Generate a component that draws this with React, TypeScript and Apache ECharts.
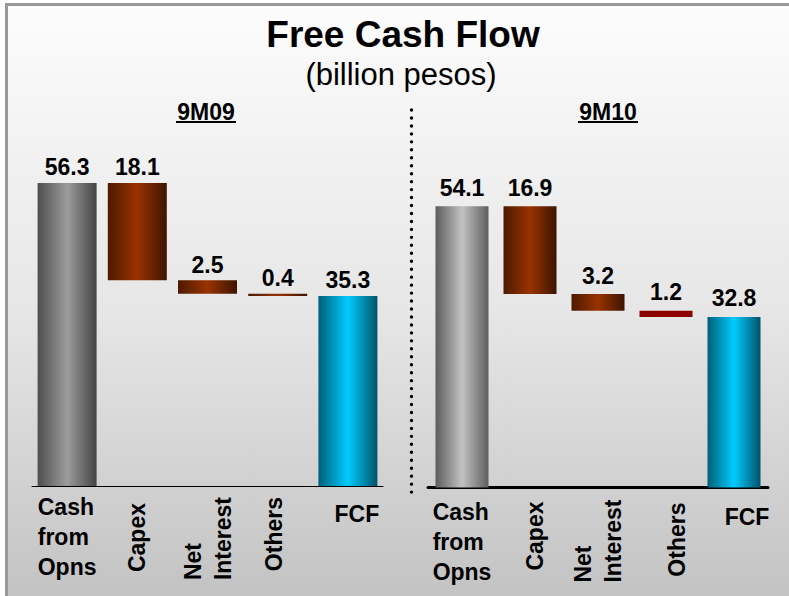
import React, { useEffect, useRef } from 'react';
import * as echarts from 'echarts';

const titleText = 'Free Cash Flow';
const subtitleText = '(billion pesos)';
const periodLabels = ['9M09', '9M10'];
const categories = ['Cash from Opns', 'Capex', 'Net Interest', 'Others', 'FCF'];
const values9M09 = [56.3, 18.1, 2.5, 0.4, 35.3];
const values9M10 = [54.1, 16.9, 3.2, 1.2, 32.8];

const FF = '"Liberation Sans", Arial, Helvetica, sans-serif';

function waterfallBases(vals: number[]): number[] {
  const out: number[] = [];
  let running = 0;
  vals.forEach((v, i) => {
    if (i === 0) {
      out.push(0);
      running = v;
    } else if (i === vals.length - 1) {
      out.push(0);
    } else {
      running -= v;
      out.push(running);
    }
  });
  return out;
}

const grad = (edge: string, mid: string, edge2?: string) =>
  new echarts.graphic.LinearGradient(0, 0, 1, 0, [
    { offset: 0, color: edge },
    { offset: 0.5, color: mid },
    { offset: 1, color: edge2 || edge },
  ]);

function barColors(panel: number) {
  const gray = panel === 0 ? grad('#4e4e4e', '#9c9c9c', '#444444') : grad('#5c5c5c', '#c2c2c2', '#5e5e5e');
  const brown = grad('#4d1a00', '#993300', '#3d1400');
  const cyan = grad('#006078', '#00ccff', '#00526a');
  const others = panel === 0 ? brown : '#8b0000';
  return [gray, brown, brown, others, cyan];
}

function horizLabelFormatter(v: string, i: number) {
  if (i === 0) return v.split(' ').map((w) => `{a|${w}}`).join('\n');
  if (i === categories.length - 1) return `{f|${v}}`;
  return '';
}

function rotLabelFormatter(v: string, i: number) {
  if (i === 1) return `{c|${v}}`;
  if (i === 2) return v.split(' ').map((w) => `{n|${w}}`).join('\n');
  if (i === 3) return `{o|${v}}`;
  return '';
}

const labelBase = { fontFamily: FF, fontWeight: 'bold' as const, fontSize: 23, color: '#000' };

export default function App() {
  const ref = useRef<HTMLDivElement>(null);
  useEffect(() => {
    if (!ref.current) return;
    const chart = echarts.init(ref.current, undefined, { renderer: 'svg' });
    const panels = [values9M09, values9M10];
    const grids = [
      { left: 32, right: 406, top: 163, bottom: 110 },
      { left: 428, right: 21, top: 175.5, bottom: 108.5 },
    ];
    const barWidths = [59, 53];
    const labelDist = [4, 7];
    const xAxes: any[] = [];
    const yAxes: any[] = [];
    const series: any[] = [];
    panels.forEach((vals, p) => {
      xAxes.push({
        type: 'category',
        gridIndex: p,
        data: categories,
        position: 'bottom',
        axisLine: { show: true, lineStyle: { color: '#000', width: p === 0 ? 1 : 3 } },
        axisTick: { show: false },
        axisLabel: {
          interval: 0,
          margin: p === 0 ? 6 : 9,
          ...labelBase,
          formatter: horizLabelFormatter,
          rich: {
            a: { ...labelBase, lineHeight: 30, align: 'left' },
            f: { ...labelBase, lineHeight: 30, padding: p === 0 ? [13, 0, 0, 18] : [10, 0, 0, 26] },
          },
        },
      });
      xAxes.push({
        type: 'category',
        gridIndex: p,
        data: categories,
        position: 'bottom',
        axisLine: { show: false },
        axisTick: { show: false },
        axisLabel: {
          interval: 0,
          rotate: 90,
          margin: p === 0 ? 11 : 12,
          ...labelBase,
          formatter: rotLabelFormatter,
          rich: {
            c: { ...labelBase, lineHeight: 30, padding: p === 0 ? [0, 6, 0, 0] : [10, 2, 0, 0] },
            n: { ...labelBase, lineHeight: 30, align: 'left' },
            o: { ...labelBase, lineHeight: 30, padding: p === 0 ? [0, 0, 8, 0] : [22, 3, 0, 0] },
          },
        },
      });
      yAxes.push({ type: 'value', gridIndex: p, min: 0, max: 60, show: false, splitLine: { show: false } });
      const colors = barColors(p);
      series.push({
        type: 'bar',
        xAxisIndex: p * 2,
        yAxisIndex: p,
        stack: 'w' + p,
        barWidth: barWidths[p],
        silent: true,
        itemStyle: { color: 'transparent' },
        data: waterfallBases(vals),
      });
      series.push({
        type: 'bar',
        xAxisIndex: p * 2,
        yAxisIndex: p,
        stack: 'w' + p,
        barWidth: barWidths[p],
        data: vals.map((v, i) => ({ value: v, itemStyle: { color: colors[i] } })),
        label: {
          show: true,
          position: 'top',
          distance: labelDist[p],
          ...labelBase,
          formatter: (d: any) => Number(d.value).toFixed(1),
        },
      });
    });

    chart.setOption({
      animation: false,
      backgroundColor: 'transparent',
      title: [
        {
          text: titleText,
          left: 403,
          top: 16,
          padding: 0,
          textAlign: 'center',
          textStyle: { fontFamily: FF, fontWeight: 'bold', fontSize: 37, color: '#000' },
        },
        {
          text: subtitleText,
          left: 401,
          top: 59,
          padding: 0,
          textAlign: 'center',
          textStyle: { fontFamily: FF, fontWeight: 'normal', fontSize: 31, color: '#000' },
        },
        {
          text: periodLabels[0],
          left: 206,
          top: 100,
          padding: 0,
          textAlign: 'center',
          textStyle: { fontFamily: FF, fontWeight: 'bold', fontSize: 23, color: '#000' },
        },
        {
          text: periodLabels[1],
          left: 608,
          top: 100,
          padding: 0,
          textAlign: 'center',
          textStyle: { fontFamily: FF, fontWeight: 'bold', fontSize: 23, color: '#000' },
        },
      ],
      grid: grids,
      xAxis: xAxes,
      yAxis: yAxes,
      series,
      graphic: [
        { type: 'line', shape: { x1: 176, y1: 122, x2: 236, y2: 122 }, style: { stroke: '#000', lineWidth: 2 } },
        { type: 'line', shape: { x1: 578, y1: 122, x2: 638, y2: 122 }, style: { stroke: '#000', lineWidth: 2 } },
        {
          type: 'line',
          shape: { x1: 411.5, y1: 110, x2: 411.5, y2: 496 },
          style: { stroke: '#000', lineWidth: 3.4, lineDash: [0.01, 7.95], lineCap: 'round' },
        },
      ],
    });
    return () => chart.dispose();
  }, []);

  return (
    <div style={{ position: 'absolute', left: 0, top: 0, width: 789, height: 596, overflow: 'hidden', background: '#fff' }}>
      <div
        style={{
          position: 'absolute',
          left: 5,
          top: 3,
          width: 820,
          height: 620,
          border: '3px solid #999',
          background: 'linear-gradient(to bottom, #fcfcfc 0%, #e6e6e6 50%, #c0c0c0 100%)',
          boxSizing: 'border-box',
        }}
      />
      <div ref={ref} style={{ position: 'absolute', left: 0, top: 0, width: 789, height: 596 }} />
    </div>
  );
}
